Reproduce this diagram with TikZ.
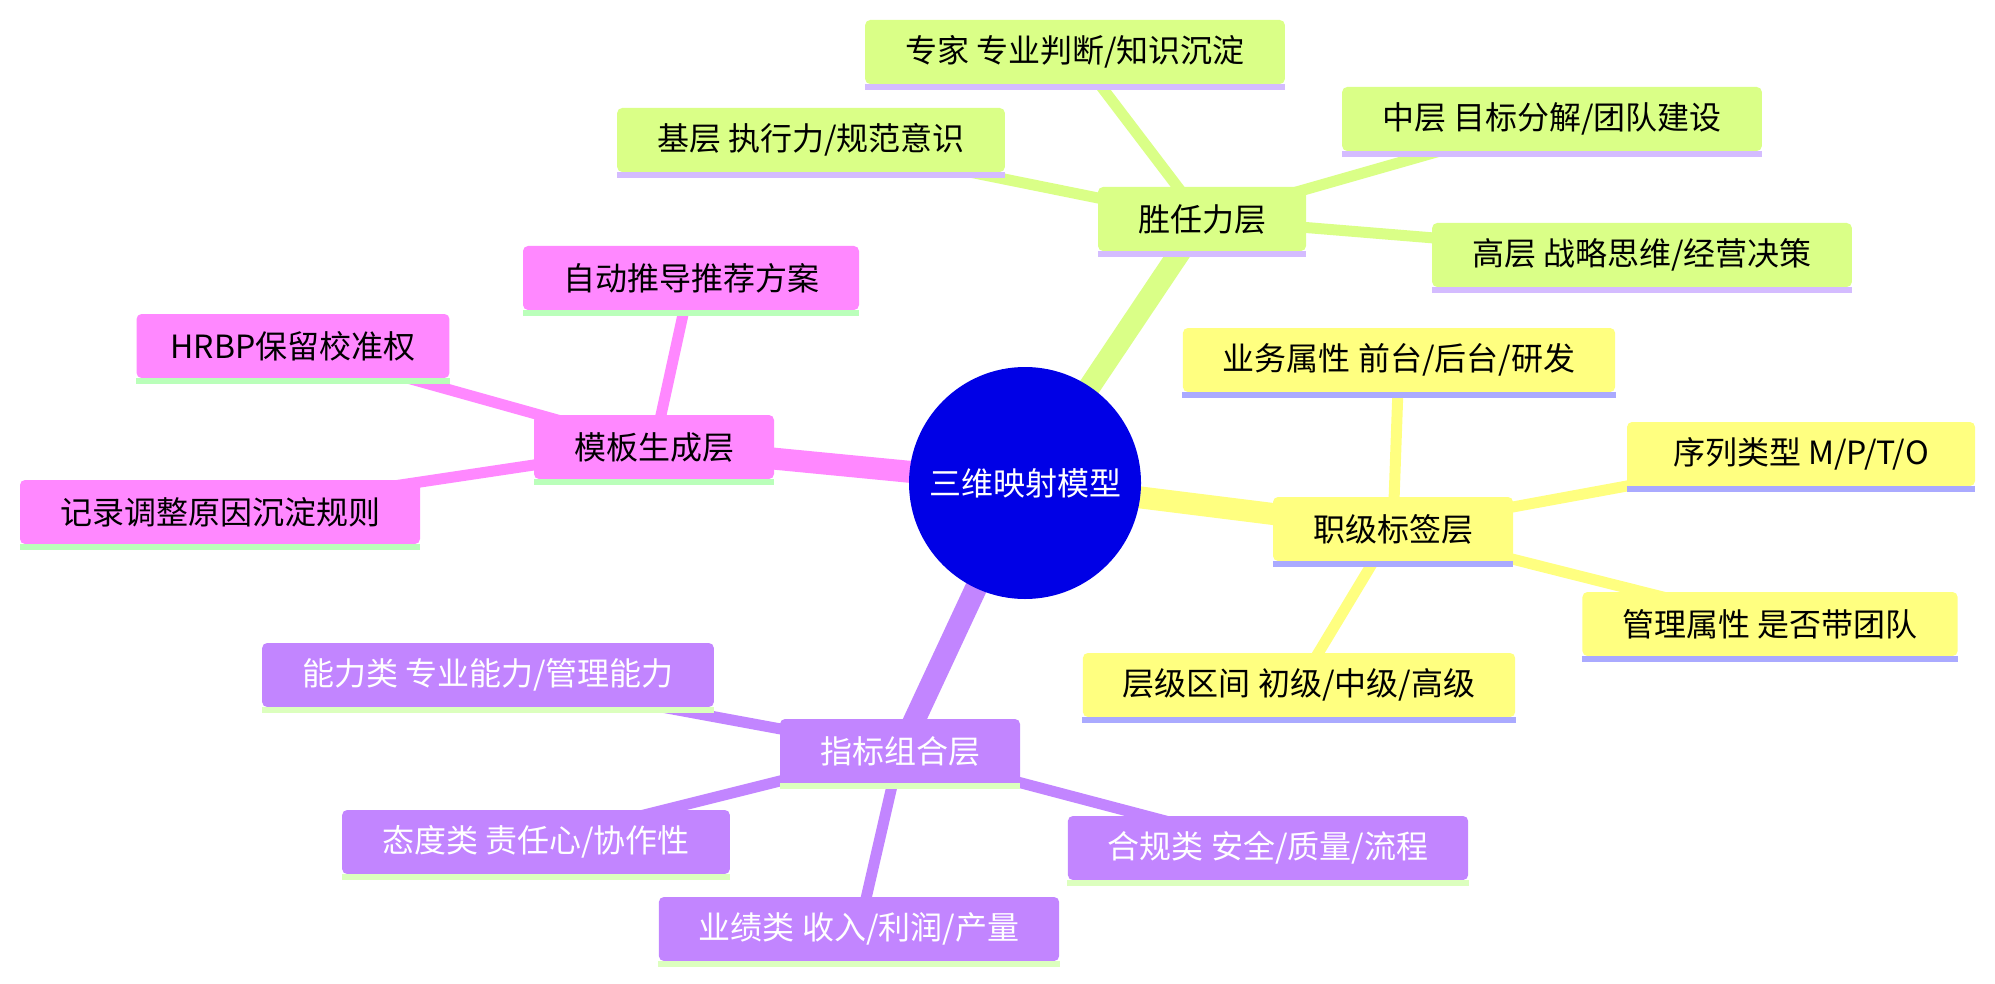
\documentclass[tikz,border=0pt]{standalone}
\usepackage{fontspec}
\setmainfont{Noto Sans CJK SC}
\pgfdeclarelayer{background}
\pgfsetlayers{background,main}
\definecolor{rootblue}{RGB}{0,0,230}
\definecolor{lime}{RGB}{218,255,135}
\definecolor{limebar}{RGB}{212,188,255}
\definecolor{lemon}{RGB}{255,255,128}
\definecolor{lemonbar}{RGB}{170,170,255}
\definecolor{lilac}{RGB}{194,133,255}
\definecolor{lilacbar}{RGB}{220,255,190}
\definecolor{pinky}{RGB}{255,136,255}
\definecolor{pinkybar}{RGB}{186,255,186}

\begin{document}
\begin{tikzpicture}[x=0.5pt, y=-0.5pt,
	box/.style = {rounded corners=2.5pt, minimum height=32pt, inner xsep=20pt, inner ysep=0pt, font=\fontsize{16}{16}\selectfont},
	limebox/.style = {box, fill=lime},
	lemonbox/.style = {box, fill=lemon},
	lilacbox/.style = {box, fill=lilac, text=white},
	pinkybox/.style = {box, fill=pinky},
	trunk/.style = {line width=11pt},
	twig/.style = {line width=5.5pt}]
	\useasboundingbox (0,0) rectangle (1995,984);
	\node [circle, fill=rootblue, text=white, minimum size=116pt, inner sep=0pt, font=\fontsize{16}{16}\selectfont] (root) at (1025,483) {三维映射模型};
	% competency
	\node [limebox] (comp) at (1202,219) {胜任力层};
	\node [limebox] (expert) at (1075,52) {专家 专业判断/知识沉淀};
	\node [limebox] (base) at (811,140) {基层 执行力/规范意识};
	\node [limebox] (mid) at (1552,119) {中层 目标分解/团队建设};
	\node [limebox] (senior) at (1642,255) {高层 战略思维/经营决策};
	% grade tags
	\node [lemonbox] (grade) at (1393,529) {职级标签层};
	\node [lemonbox] (biz) at (1399,360) {业务属性 前台/后台/研发};
	\node [lemonbox, minimum width=174pt] (seq) at (1801,454) {序列类型 M/P/T/O};
	\node [lemonbox] (mgmt) at (1770,624) {管理属性 是否带团队};
	\node [lemonbox] (band) at (1299,685) {层级区间 初级/中级/高级};
	% metrics
	\node [lilacbox] (metric) at (900,751) {指标组合层};
	\node [lilacbox] (ability) at (488,675) {能力类 专业能力/管理能力};
	\node [lilacbox] (attitude) at (536,842) {态度类 责任心/协作性};
	\node [lilacbox] (perf) at (859,929) {业绩类 收入/利润/产量};
	\node [lilacbox] (rules) at (1268,848) {合规类 安全/质量/流程};
	% template
	\node [pinkybox] (tmpl) at (654,447) {模板生成层};
	\node [pinkybox] (auto) at (691,278) {自动推导推荐方案};
	\node [pinkybox, inner xsep=17pt] (hrbp) at (293,346) {HRBP保留校准权};
	\node [pinkybox] (record) at (220,512) {记录调整原因沉淀规则};

	\foreach \n/\c in {comp/limebar, expert/limebar, base/limebar, mid/limebar, senior/limebar,
		grade/lemonbar, biz/lemonbar, seq/lemonbar, mgmt/lemonbar, band/lemonbar,
		metric/lilacbar, ability/lilacbar, attitude/lilacbar, perf/lilacbar, rules/lilacbar,
		tmpl/pinkybar, auto/pinkybar, hrbp/pinkybar, record/pinkybar}
		\fill [\c] (\n.south west) rectangle ([yshift=-2.75pt]\n.south east);

	\begin{pgfonlayer}{background}
		\draw [trunk, lime] (root.center) -- (comp.center);
		\draw [trunk, lemon] (root.center) -- (grade.center);
		\draw [trunk, lilac] (root.center) -- (metric.center);
		\draw [trunk, pinky] (root.center) -- (tmpl.center);
		\foreach \n in {expert, base, mid, senior} \draw [twig, lime] (comp.center) -- (\n.center);
		\foreach \n in {biz, seq, mgmt, band} \draw [twig, lemon] (grade.center) -- (\n.center);
		\foreach \n in {ability, attitude, perf, rules} \draw [twig, lilac] (metric.center) -- (\n.center);
		\foreach \n in {auto, hrbp, record} \draw [twig, pinky] (tmpl.center) -- (\n.center);
	\end{pgfonlayer}
\end{tikzpicture}
\end{document}
